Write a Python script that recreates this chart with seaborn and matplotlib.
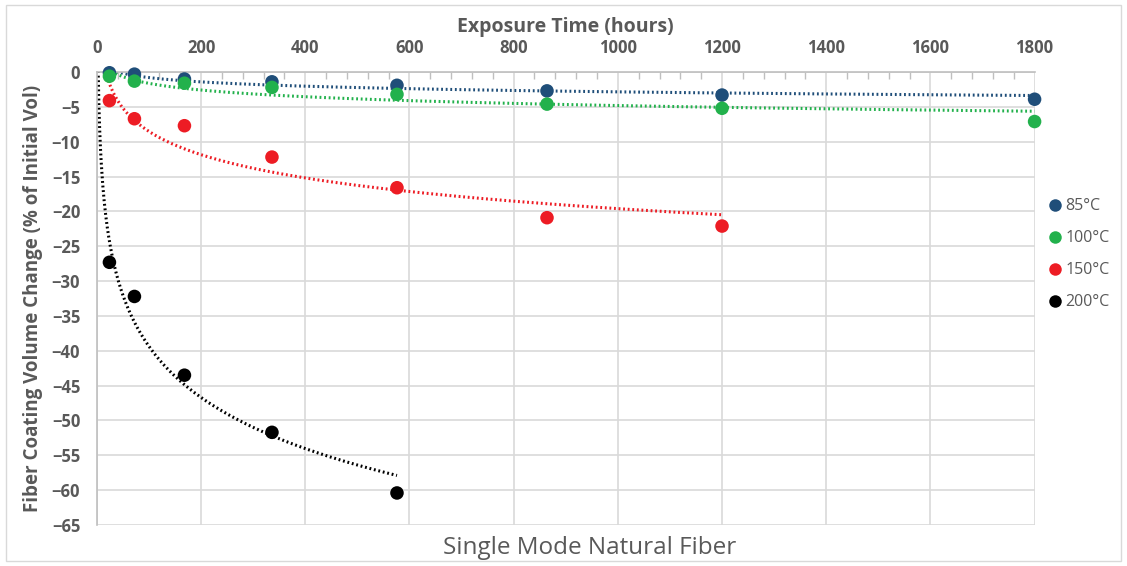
import numpy as np
import pandas as pd
import matplotlib
matplotlib.use('Agg')
import matplotlib.pyplot as plt
from matplotlib.ticker import MultipleLocator
from matplotlib.patches import Rectangle
from matplotlib.lines import Line2D
import seaborn as sns

# exposure times (hours) and volume change (% of initial vol)
hours_85 = [24, 72, 168, 336, 576, 864, 1200, 1800]
vol_85 = [-0.1, -0.3, -1.0, -1.4, -1.9, -2.7, -3.3, -3.9]

hours_100 = [24, 72, 168, 336, 576, 864, 1200, 1800]
vol_100 = [-0.6, -1.3, -1.6, -2.2, -3.2, -4.6, -5.2, -7.1]

hours_150 = [24, 72, 168, 336, 576, 864, 1200]
vol_150 = [-4.1, -6.7, -7.7, -12.2, -16.6, -20.9, -22.1]

hours_200 = [24, 72, 168, 336, 576]
vol_200 = [-27.3, -32.2, -43.5, -51.7, -60.4]

series_names = ['85°C', '100°C', '150°C', '200°C']
series_colors = ['#1F4E79', '#22B14C', '#ED1C24', '#000000']

text_grey = '#595959'

sns.set_style('white')
plt.rcParams['font.family'] = ['Open Sans', 'DejaVu Sans']

rows = []
for name, xs, ys in zip(series_names,
                        [hours_85, hours_100, hours_150, hours_200],
                        [vol_85, vol_100, vol_150, vol_200]):
    for x, y in zip(xs, ys):
        rows.append({'hours': x, 'vol': y, 'temp': name})
df = pd.DataFrame(rows)

# log trendlines (like excel) fitted from the points
trend_rows = []
for name in series_names:
    sub = df[df['temp'] == name]
    a, b = np.polyfit(np.log(sub['hours']), sub['vol'], 1)
    xs = np.linspace(1, sub['hours'].max(), 400)
    for x in xs:
        trend_rows.append({'hours': x, 'vol': a * np.log(x) + b, 'temp': name})
df_trend = pd.DataFrame(trend_rows)

palette = dict(zip(series_names, series_colors))

fig = plt.figure(figsize=(11.27, 5.66), dpi=100)
ax = fig.add_axes([0.086, 0.0724, 0.832, 0.8003])

sns.lineplot(data=df_trend, x='hours', y='vol', hue='temp', palette=palette,
             linestyle=(0, (0.6, 0.9)), linewidth=2.2, legend=False, ax=ax,
             zorder=2)
sns.scatterplot(data=df, x='hours', y='vol', hue='temp', palette=palette,
                s=95, edgecolor='none', legend=False, ax=ax, zorder=3,
                clip_on=False)

ax.set_xlim(0, 1800)
ax.set_ylim(-65, 0)
ax.xaxis.set_major_locator(MultipleLocator(200))
ax.xaxis.set_minor_locator(MultipleLocator(40))
ax.yaxis.set_major_locator(MultipleLocator(5))
ax.yaxis.set_minor_locator(MultipleLocator(1))
ax.xaxis.tick_top()
ax.xaxis.set_label_position('top')
ax.grid(True, which='major', color='#D9D9D9', linewidth=1.2)
ax.set_axisbelow(True)

for side in ['bottom', 'right']:
    ax.spines[side].set_visible(False)
for side in ['top', 'left']:
    ax.spines[side].set_color('#BFBFBF')
    ax.spines[side].set_linewidth(1.2)

ax.tick_params(axis='both', which='major', direction='in', length=0,
               labelsize=12, labelcolor=text_grey)
ax.tick_params(axis='x', which='major', pad=11)
ax.tick_params(axis='y', which='major', pad=12)
ax.tick_params(axis='both', which='minor', direction='in', length=5,
               color='#BFBFBF', width=1)
for lab in ax.get_xticklabels() + ax.get_yticklabels():
    lab.set_fontweight('bold')

ax.set_xlabel('Exposure Time (hours)', fontsize=14, fontweight='bold',
              color=text_grey, labelpad=5)
ax.set_ylabel('Fiber Coating Volume Change (% of Initial Vol)', fontsize=13.5,
              fontweight='bold', color=text_grey, labelpad=6)

fig.text(0.523, 0.032, 'Single Mode Natural Fiber', fontsize=17.5,
         color=text_grey, ha='center', va='center')

handles = [Line2D([0], [0], marker='o', color='none', markerfacecolor=c,
                  markeredgecolor='none', markersize=9)
           for c in series_colors]
fig.legend(handles, series_names, loc='upper left',
           bbox_to_anchor=(0.915, 0.675), frameon=False, fontsize=11.5,
           labelcolor=text_grey, handletextpad=0.05, handlelength=1.2,
           labelspacing=1.0)

fig.patches.append(Rectangle((0.005, 0.008), 0.99, 0.984, transform=fig.transFigure,
                             fill=False, edgecolor='#D9D9D9', linewidth=1))

plt.savefig('out.png', dpi=100)
